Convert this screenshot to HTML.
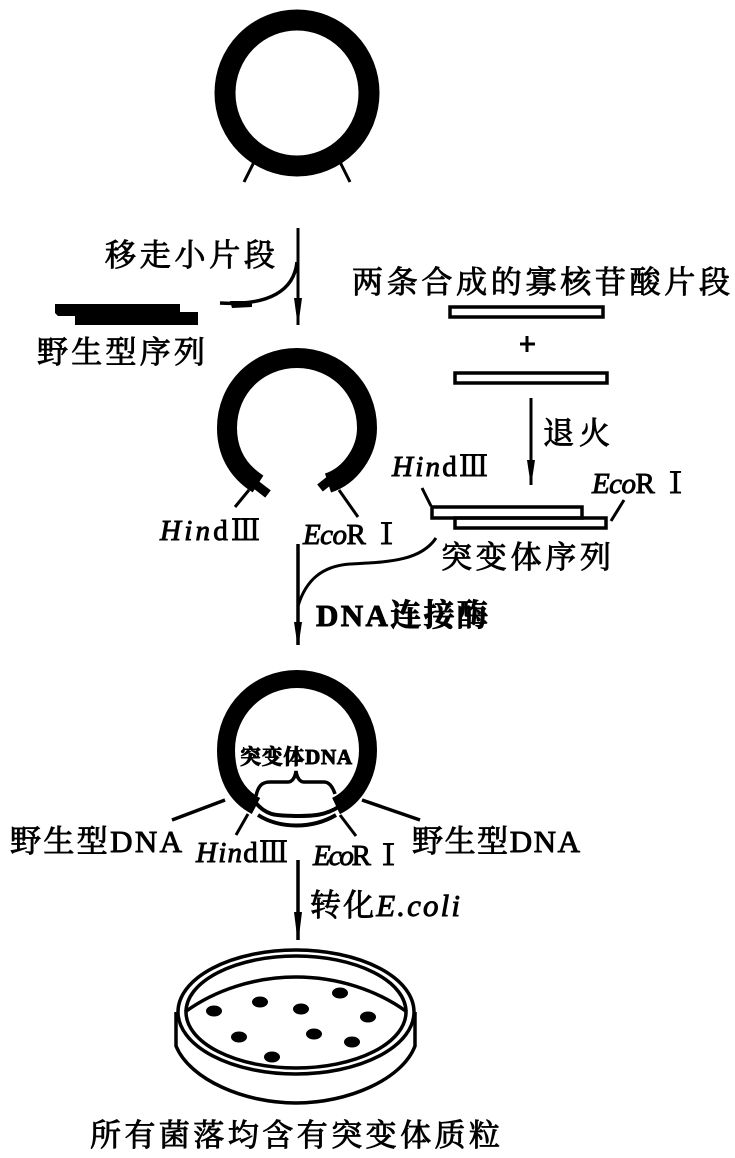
<!DOCTYPE html>
<html><head><meta charset="utf-8"><style>
html,body{margin:0;padding:0;background:#fff}
svg{display:block}
text{font-family:"Liberation Serif","Noto Serif CJK SC",serif;fill:#000;stroke:#000;stroke-width:.9}
.i{font-style:italic}
</style></head><body>
<svg width="735" height="1158" viewBox="0 0 735 1158" xmlns="http://www.w3.org/2000/svg">
<g fill="none" stroke="#000">
<!-- ring 1 -->
<ellipse cx="297" cy="93" rx="72" ry="73" stroke-width="21"/>
<path d="M255 160L244 182M339 160L350 182" stroke-width="3"/>
<!-- arrow 1 -->
<path d="M298 228V325" stroke-width="3"/>
<path d="M297 262C294 290 270 306 220 303" stroke-width="3.5"/>
<!-- ring 2 -->
<path d="M258 484C236 470 227 450 227 428C227 388 258 358 297 358C336 358 367 388 367 428C367 452 350 476 328 483" stroke-width="20"/>
<path d="M255 484L268 494" stroke-width="9"/>
<path d="M330 480L320 488" stroke-width="9"/>
<path d="M249 490L235 507M339 490L358 517" stroke-width="3"/>
<!-- annealing -->
<rect x="450" y="307" width="153" height="10" stroke-width="3.5"/>
<rect x="455" y="373" width="152" height="10" stroke-width="3.5"/>
<path d="M531 398V485" stroke-width="3"/>
<path d="M520 344H535M527 336V352" stroke-width="3"/>
<rect x="432" y="507" width="150" height="11" stroke-width="3.5"/>
<rect x="455" y="518" width="151" height="10" stroke-width="3.5"/>
<path d="M422 488L431 506M624 500L611 521" stroke-width="3"/>
<!-- ligase arrow -->
<path d="M298 544V645" stroke-width="3.5"/>
<path d="M298 606C306 580 322 566 350 564C385 562 420 562 436 538" stroke-width="3"/>
<!-- ring 3 -->
<path d="M256 806C235 795 226 775 226 750C226 710 258 679 297 679C336 679 368 710 368 750C368 775 355 797 336 806" stroke-width="18"/>
<path d="M255 802C268 818 280 815 296 816C312 816 325 816 340 806" stroke-width="4"/>
<path d="M258 815C280 829 312 829 336 815" stroke-width="4"/>
<path d="M256 796C258 786 262 782 270 782H288C292 782 295 778 296 771C297 778 300 782 304 782H324C330 782 333 788 335 794" stroke-width="3.5"/>
<path d="M225 800L172 820M362 800L420 820" stroke-width="3.5"/>
<path d="M248 814L236 835M340 815L356 836" stroke-width="3"/>
<!-- transform arrow -->
<path d="M298 860V940" stroke-width="3.5"/>
<!-- dish -->
<ellipse cx="296" cy="1012" rx="118" ry="62" stroke-width="3.5"/>
<ellipse cx="296" cy="1012" rx="110" ry="56" stroke-width="3.5"/>
<path d="M185 1012C215 990 255 977 296 977C337 977 377 990 407 1012" stroke-width="3.5"/>
<path d="M176 1012V1046C190 1080 245 1103 296 1103C347 1103 402 1080 415 1046V1012" stroke-width="3.5"/>
</g>
<g fill="#000">
<!-- arrowheads -->
<path d="M294 298H302L299 320H297ZM527 460H535L532 480H530ZM294 622H302L299 642H297ZM294 912H302L299 936H297Z"/>
<path d="M230 301L252 301L252 307L232 308Z"/>
<!-- wild-type bars -->
<path d="M55 304H180V312H198V325H75V316H58L55 313Z"/>
<!-- colonies -->
<ellipse cx="214" cy="1011" rx="8" ry="5.5"/>
<ellipse cx="260" cy="1002" rx="8" ry="5.5"/>
<ellipse cx="301" cy="1009" rx="8" ry="5.5"/>
<ellipse cx="340" cy="993" rx="8" ry="5.5"/>
<ellipse cx="368" cy="1017" rx="8" ry="5.5"/>
<ellipse cx="239" cy="1037" rx="8" ry="5.5"/>
<ellipse cx="314" cy="1034" rx="8" ry="5.5"/>
<ellipse cx="352" cy="1042" rx="8" ry="5.5"/>
<ellipse cx="272" cy="1057" rx="8" ry="5.5"/>
</g>
<g font-size="31">
<text x="105" y="266" textLength="170" lengthAdjust="spacing">移走小片段</text>
<text x="352" y="293" textLength="378" lengthAdjust="spacing">两条合成的寡核苷酸片段</text>
<text x="37" y="363" textLength="168" lengthAdjust="spacing">野生型序列</text>
<text x="543" y="444" textLength="67" lengthAdjust="spacing">退火</text>
<text x="441" y="568" textLength="170" lengthAdjust="spacing">突变体序列</text>
<text x="316" y="626" textLength="172" lengthAdjust="spacing" font-weight="700">DNA连接酶</text>
<text x="10" y="852" textLength="172" lengthAdjust="spacing">野生型DNA</text>
<text x="412" y="852" textLength="168" lengthAdjust="spacing">野生型DNA</text>
<text x="310" y="916" textLength="150" lengthAdjust="spacing">转化<tspan class="i">E.coli</tspan></text>
<text x="90" y="1146" textLength="410" lengthAdjust="spacing">所有菌落均含有突变体质粒</text>
</g>
<text x="240" y="764" font-size="21" font-weight="700" textLength="112" lengthAdjust="spacing">突变体DNA</text>
<g font-size="29">
<text x="160" y="540" textLength="100" lengthAdjust="spacing"><tspan class="i">Hin</tspan>dⅢ</text>
<text x="303" y="544" textLength="98" lengthAdjust="spacing"><tspan class="i">Eco</tspan>R Ⅰ</text>
<text x="392" y="476" textLength="96" lengthAdjust="spacing"><tspan class="i">Hin</tspan>dⅢ</text>
<text x="592" y="493" textLength="98" lengthAdjust="spacing"><tspan class="i">Eco</tspan>R Ⅰ</text>
<text x="196" y="862" textLength="92" lengthAdjust="spacing"><tspan class="i">Hin</tspan>dⅢ</text>
<text x="313" y="865" textLength="90" lengthAdjust="spacing"><tspan class="i">Eco</tspan>R Ⅰ</text>
</g>
</svg>
</body></html>
